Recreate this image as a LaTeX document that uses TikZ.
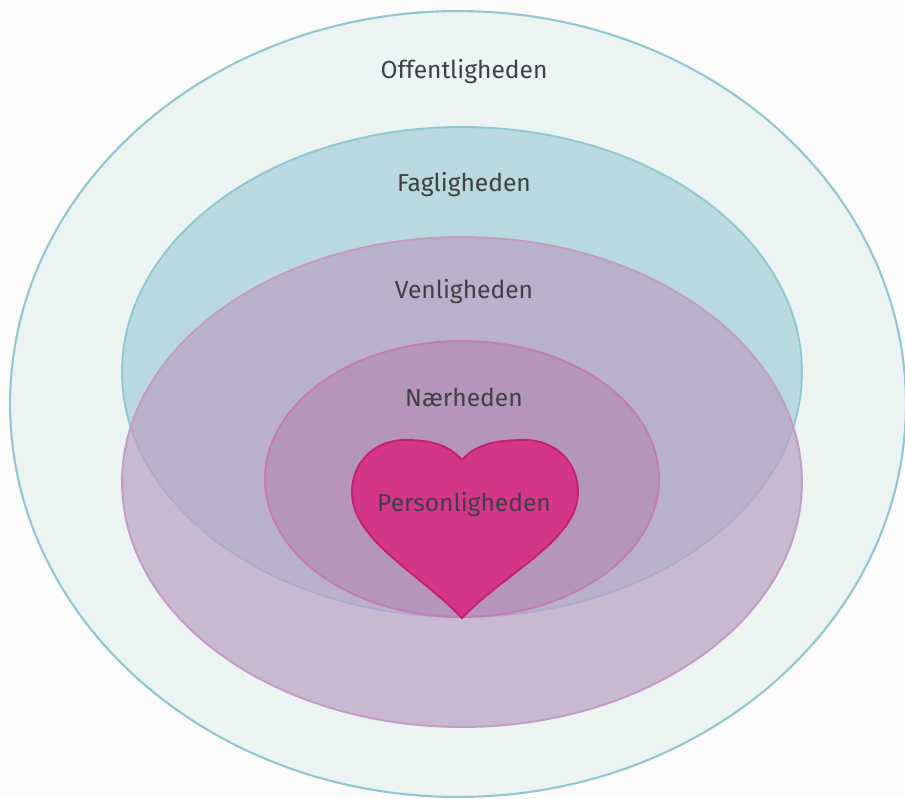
\documentclass[tikz,border=0pt]{standalone}
\usepackage{fontspec}
\setmainfont{Fira Sans}
\usepackage{xcolor}
\definecolor{paper}{HTML}{FDFCFB}
\definecolor{outerfill}{HTML}{EBF4F3}
\definecolor{outerline}{HTML}{93C7D0}
\definecolor{fagfill}{HTML}{B9D9DE}
\definecolor{fagline}{HTML}{8FC8D1}
\definecolor{venfill}{HTML}{BAA1C2}
\definecolor{venline}{HTML}{C49CC3}
\definecolor{naerfill}{HTML}{AE7CA7}
\definecolor{naerline}{HTML}{C47DAE}
\definecolor{heartfill}{HTML}{D6368A}
\definecolor{heartline}{HTML}{C4207A}
\definecolor{ink}{HTML}{3F3F46}
\tikzset{label/.style={text=ink,font=\fontsize{14}{17}\selectfont}}
\begin{document}
\begin{tikzpicture}[x=0.02cm,y=-0.02cm]
		\fill [paper] (0,0) rectangle (905,798);
		\useasboundingbox (0,0) rectangle (905,798);
		\draw [outerline,line width=1.2pt,fill=outerfill] (458,404) ellipse [x radius=8.96cm,y radius=7.86cm];
		\draw [fagline,line width=1.1pt,fill=fagfill] (462,372) ellipse [x radius=6.8cm,y radius=4.9cm];
		\draw [venline,line width=1.1pt,fill=venfill,fill opacity=0.7] (462,482) ellipse [x radius=6.8cm,y radius=4.9cm];
		\draw [naerline,line width=1.1pt,fill=naerfill,fill opacity=0.5] (462,479) ellipse [x radius=3.94cm,y radius=2.76cm];
		%
		\draw [heartline,line width=1.1pt,fill=heartfill] (462,460) .. controls (447,443) and (427,440) .. (405,440)
			.. controls (375,440) and (352,462) .. (352,492)
			.. controls (352,540) and (418,572) .. (462,618)
			.. controls (506,572) and (578,540) .. (578,492)
			.. controls (578,462) and (555,440) .. (525,440)
			.. controls (499,440) and (477,443) .. (462,460);
		%
		\node [label] (offentlig) at (464,72) {Offentligheden};
		\node [label] (faglig) at (464,185) {Fagligheden};
		\node [label] (venlig) at (464,292) {Venligheden};
		\node [label] (naer) at (464,397) {Nærheden};
		\node [label] (person) at (464,505) {Personligheden};
	\end{tikzpicture}
\end{document}
